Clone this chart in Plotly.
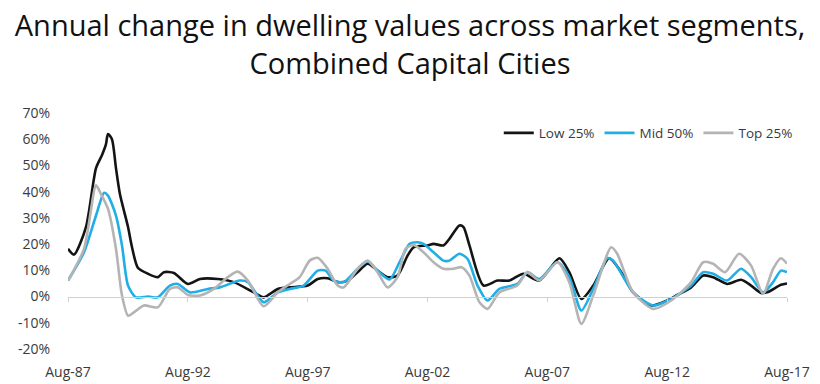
import plotly.graph_objects as go

# ---- data (annual % change) ----
low_dates = ["1987-08","1987-11","1988-05","1988-10","1989-01","1989-03","1989-04","1989-06",
             "1989-08","1989-10","1990-02","1990-04","1990-07","1990-12","1991-05","1991-08",
             "1992-01","1992-08","1993-02","1993-11","1994-07","1995-05","1995-10","1996-05",
             "1996-11","1997-08","1998-01","1998-06","1998-11","1999-04","1999-09","2000-02",
             "2000-07","2000-12","2001-05","2001-10","2002-01","2002-08","2002-11","2003-04",
             "2003-07","2003-12","2004-02","2004-05","2004-12","2005-07","2006-01","2006-08",
             "2007-04","2008-02","2008-07","2009-01","2009-07","2010-03","2010-09","2011-03",
             "2011-12","2012-08","2013-01","2013-08","2014-02","2014-07","2015-02","2015-09",
             "2016-02","2016-07","2016-10","2017-05","2017-08"]
low_vals = [18.2,16.0,26.5,49.0,54.0,58.0,62.0,60.0,
            49.0,39.0,26.5,19.0,11.0,8.7,7.4,9.3,
            9.0,4.8,6.7,6.7,5.5,1.6,-0.3,2.9,
            3.5,4.2,6.7,7.0,5.5,6.1,9.3,12.5,
            9.9,7.4,8.0,15.6,18.8,19.5,20.1,19.5,
            22.0,27.1,26.5,19.5,4.2,6.1,6.1,8.7,
            6.1,14.6,9.3,-0.9,4.2,14.6,9.3,1.6,
            -3.4,-1.5,0.6,3.5,8.0,7.4,4.8,6.4,
            4.2,1.4,1.6,4.5,5.0]

mid_dates = ["1987-08","1988-04","1988-10","1989-02","1989-04","1989-08","1989-11","1990-02",
             "1990-06","1990-12","1991-05","1991-11","1992-03","1992-09","1993-06","1993-12",
             "1994-10","1995-02","1995-10","1996-05","1996-11","1997-06","1998-01","1998-05",
             "1998-09","1999-02","1999-09","2000-02","2000-07","2001-01","2001-06","2001-11",
             "2002-03","2002-06","2002-11","2003-04","2003-07","2003-12","2004-04","2004-09",
             "2005-02","2005-08","2006-05","2006-10","2007-04","2008-01","2008-07","2009-01",
             "2009-07","2010-02","2010-05","2011-03","2012-01","2012-10","2013-08","2014-02",
             "2014-07","2015-02","2015-09","2016-02","2016-08","2017-01","2017-05","2017-08"]
mid_vals = [6.1,16.9,30.9,39.6,38.5,30.9,19.5,4.2,
            -0.3,0.0,-0.3,4.2,4.8,1.6,2.9,3.5,
            6.1,5.5,-2.2,1.6,2.9,4.2,9.9,9.9,
            6.1,5.5,10.6,13.4,9.9,6.5,13.1,20.1,
            20.7,20.1,16.9,13.7,13.7,16.3,14.4,4.2,
            -1.5,2.9,4.8,9.3,6.7,13.1,7.4,-5.3,
            2.9,14.6,13.7,1.6,-3.4,-0.9,4.2,9.3,
            8.7,6.1,10.6,7.4,1.6,5.5,9.9,9.3]

top_dates = ["1987-08","1988-04","1988-10","1988-12","1989-04","1989-08","1989-11","1990-02",
             "1990-05","1990-10","1991-05","1991-11","1992-03","1992-08","1993-02","1993-09",
             "1994-04","1994-09","1995-02","1995-10","1996-05","1996-11","1997-04","1997-09",
             "1998-01","1998-06","1998-11","1999-02","1999-09","2000-02","2000-07","2000-12",
             "2001-05","2001-09","2002-01","2002-06","2002-11","2003-04","2003-09","2004-01",
             "2004-05","2004-10","2005-02","2005-08","2006-05","2006-10","2007-04","2008-01",
             "2008-07","2009-01","2009-07","2010-04","2010-07","2011-03","2012-01","2012-10",
             "2013-08","2014-02","2014-07","2015-01","2015-08","2016-02","2016-08","2017-01",
             "2017-05","2017-08"]
top_vals = [6.1,18.2,42.4,39.8,33.5,18.2,0.4,-7.3,
            -6.0,-3.4,-4.1,2.9,3.5,0.6,0.4,2.9,
            7.4,9.5,6.1,-3.7,1.6,4.8,7.4,13.7,
            14.8,10.6,4.2,3.5,10.6,13.7,9.3,3.5,
            7.4,18.2,19.7,16.9,13.1,10.6,10.6,11.2,
            8.0,-2.2,-4.7,1.6,4.2,9.3,6.1,13.1,
            5.5,-10.4,0.4,18.8,16.3,1.6,-4.7,-1.5,
            5.5,13.1,12.5,9.3,16.3,11.8,1.0,10.6,
            14.6,12.5]

x_tick_vals = ["1987-08-01","1992-08-01","1997-08-01","2002-08-01","2007-08-01","2012-08-01","2017-08-01"]
x_tick_text = ["Aug-87","Aug-92","Aug-97","Aug-02","Aug-07","Aug-12","Aug-17"]
y_tick_vals = [-20,-10,0,10,20,30,40,50,60,70]
y_tick_text = ["-20%","-10%","0%","10%","20%","30%","40%","50%","60%","70%"]

series = [
    ("Low 25%", low_dates, low_vals, "#141414"),
    ("Mid 50%", mid_dates, mid_vals, "#1FAEE6"),
    ("Top 25%", top_dates, top_vals, "#B4B4B4"),
]

fig = go.Figure()
for name, d, v, c in series:
    fig.add_trace(go.Scatter(
        x=d, y=v, name=name, mode="lines",
        line=dict(color=c, width=2.6, shape="spline", smoothing=0.7),
    ))

# invisible trace on the zero-crossing axis so it renders
fig.add_trace(go.Scatter(x=[x_tick_vals[0], x_tick_vals[-1]], y=[0, 0], xaxis="x2",
                         mode="lines", line=dict(color="rgba(0,0,0,0)"),
                         showlegend=False, hoverinfo="skip"))

tick_font = dict(family="Open Sans, Arial, sans-serif", size=14, color="#3a3a3a")
x_range = ["1987-08-01", "2017-08-01"]

fig.update_layout(
    width=820, height=384,
    margin=dict(l=68, r=33, t=113, b=35),
    paper_bgcolor="white", plot_bgcolor="white",
    title=dict(
        text="Annual change in dwelling values across market segments,<br>Combined Capital Cities",
        x=0.5, xanchor="center", yref="container", y=0.906, yanchor="middle",
        font=dict(family="Open Sans, sans-serif", size=29, color="#111111"),
    ),
    xaxis=dict(
        type="date", range=x_range, tickvals=x_tick_vals, ticktext=x_tick_text,
        showgrid=False, zeroline=False, showline=False, automargin=False,
        ticks="outside", ticklen=10, tickcolor="rgba(0,0,0,0)",
        tickfont=tick_font,
    ),
    xaxis2=dict(
        type="date", range=x_range, overlaying="x", anchor="free",
        position=(0 - (-20)) / (70 - (-20)), automargin=False,
        tickvals=x_tick_vals, showticklabels=False,
        showline=True, linecolor="#d0d0d0", linewidth=1.2,
        ticks="outside", ticklen=4, tickcolor="#d0d0d0",
        showgrid=False, zeroline=False,
    ),
    yaxis=dict(
        range=[-20, 70], tickvals=y_tick_vals, ticktext=y_tick_text,
        showgrid=False, zeroline=False, showline=False, automargin=False,
        ticks="outside", ticklen=14, tickcolor="rgba(0,0,0,0)",
        tickfont=tick_font,
    ),
    legend=dict(
        orientation="h", x=1.015, xanchor="right", y=0.915, yanchor="middle",
        font=dict(family="Open Sans, Arial, sans-serif", size=13.5, color="#3a3a3a"),
        bgcolor="rgba(0,0,0,0)", itemwidth=30, tracegroupgap=0,
    ),
    showlegend=True,
)

fig.write_html("out.html", config={"displayModeBar": False},
               post_script="document.body.style.margin='0';")
